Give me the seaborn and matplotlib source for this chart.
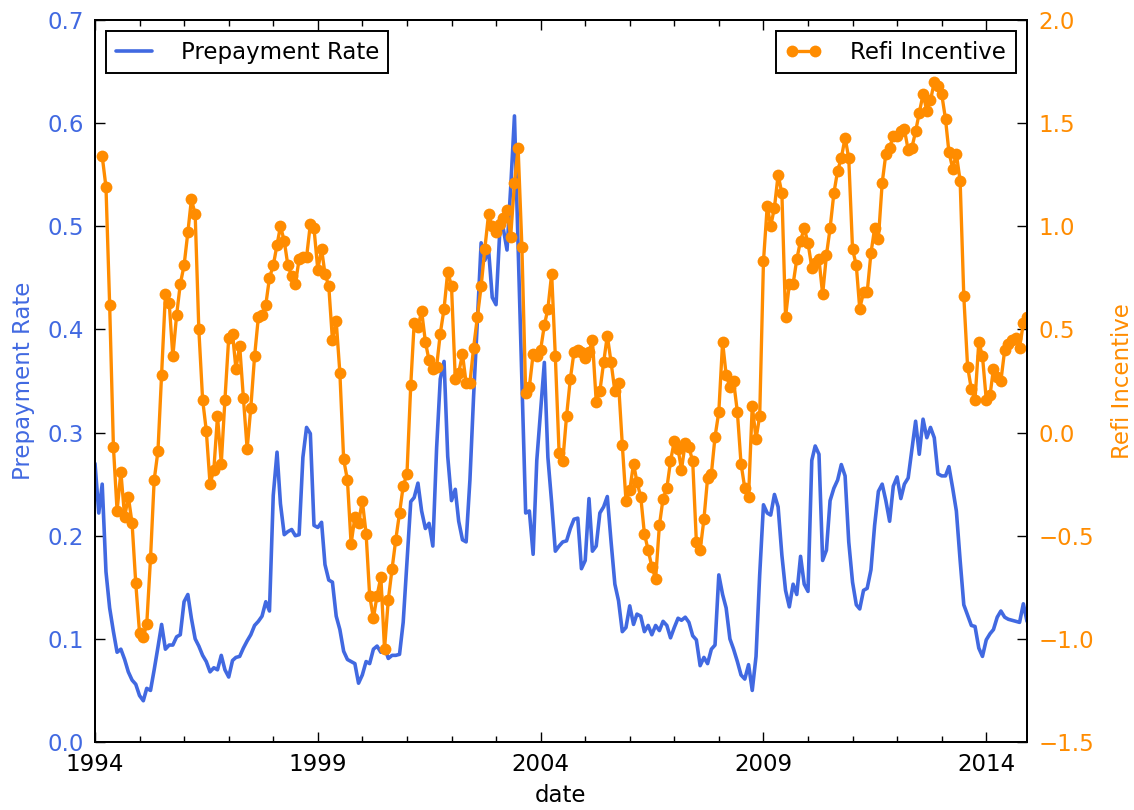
import numpy as np
import pandas as pd
import matplotlib
matplotlib.use("Agg")
import matplotlib.pyplot as plt
import matplotlib.dates as mdates
import seaborn as sns

# ---------------- data (monthly, Jan 1994 - Dec 2014) ----------------
start_month = "1994-01-01"

prepayment_rate = [
    0.270, 0.222, 0.250, 0.165, 0.130, 0.107, 0.087, 0.090, 0.080, 0.068, 0.060, 0.056,  # 1994
    0.045, 0.040, 0.052, 0.050, 0.070, 0.092, 0.114, 0.090, 0.094, 0.094, 0.102, 0.104,  # 1995
    0.136, 0.143, 0.120, 0.100, 0.093, 0.084, 0.078, 0.068, 0.072, 0.070, 0.084, 0.070,  # 1996
    0.063, 0.079, 0.082, 0.083, 0.091, 0.098, 0.104, 0.113, 0.117, 0.122, 0.136, 0.127,  # 1997
    0.239, 0.281, 0.231, 0.201, 0.204, 0.206, 0.200, 0.201, 0.276, 0.305, 0.299, 0.210,  # 1998
    0.208, 0.213, 0.172, 0.157, 0.155, 0.122, 0.109, 0.088, 0.080, 0.078, 0.076, 0.057,  # 1999
    0.065, 0.078, 0.076, 0.090, 0.093, 0.087, 0.092, 0.081, 0.084, 0.084, 0.085, 0.116,  # 2000
    0.174, 0.233, 0.237, 0.251, 0.224, 0.207, 0.212, 0.190, 0.285, 0.352, 0.369, 0.277,  # 2001
    0.234, 0.245, 0.214, 0.196, 0.194, 0.254, 0.335, 0.408, 0.484, 0.467, 0.477, 0.431,  # 2002
    0.424, 0.496, 0.498, 0.477, 0.537, 0.607, 0.480, 0.350, 0.222, 0.224, 0.182, 0.273,  # 2003
    0.320, 0.368, 0.276, 0.232, 0.185, 0.190, 0.194, 0.195, 0.207, 0.216, 0.217, 0.168,  # 2004
    0.176, 0.236, 0.185, 0.190, 0.222, 0.228, 0.238, 0.194, 0.153, 0.137, 0.107, 0.111,  # 2005
    0.132, 0.114, 0.124, 0.122, 0.107, 0.113, 0.104, 0.113, 0.108, 0.117, 0.113, 0.101,  # 2006
    0.111, 0.120, 0.118, 0.121, 0.116, 0.103, 0.099, 0.074, 0.082, 0.076, 0.090, 0.094,  # 2007
    0.162, 0.143, 0.130, 0.100, 0.090, 0.078, 0.065, 0.061, 0.075, 0.050, 0.083, 0.162,  # 2008
    0.230, 0.222, 0.220, 0.240, 0.228, 0.181, 0.147, 0.131, 0.153, 0.143, 0.180, 0.153,  # 2009
    0.146, 0.273, 0.287, 0.279, 0.176, 0.186, 0.234, 0.246, 0.254, 0.269, 0.258, 0.194,  # 2010
    0.155, 0.133, 0.129, 0.147, 0.149, 0.167, 0.210, 0.243, 0.250, 0.234, 0.214, 0.248,  # 2011
    0.257, 0.236, 0.250, 0.256, 0.283, 0.311, 0.279, 0.313, 0.295, 0.305, 0.295, 0.260,  # 2012
    0.258, 0.258, 0.267, 0.246, 0.224, 0.176, 0.133, 0.123, 0.113, 0.112, 0.091, 0.083,  # 2013
    0.099, 0.105, 0.109, 0.121, 0.127, 0.121, 0.119, 0.118, 0.117, 0.116, 0.134, 0.117,  # 2014
]

refi_incentive = [
    np.nan, np.nan, 1.34, 1.19, 0.62, -0.07, -0.38, -0.19, -0.41, -0.31, -0.44, -0.73,  # 1994
    -0.97, -0.99, -0.93, -0.61, -0.23, -0.09, 0.28, 0.67, 0.63, 0.37, 0.57, 0.72,       # 1995
    0.81, 0.97, 1.13, 1.06, 0.50, 0.16, 0.01, -0.25, -0.18, 0.08, -0.15, 0.16,          # 1996
    0.46, 0.48, 0.31, 0.42, 0.17, -0.08, 0.12, 0.37, 0.56, 0.57, 0.62, 0.75,            # 1997
    0.81, 0.91, 1.00, 0.93, 0.81, 0.76, 0.72, 0.84, 0.85, 0.85, 1.01, 0.99,             # 1998
    0.79, 0.89, 0.77, 0.71, 0.45, 0.54, 0.29, -0.13, -0.23, -0.54, -0.41, -0.44,        # 1999
    -0.33, -0.49, -0.79, -0.90, -0.79, -0.70, -1.05, -0.81, -0.66, -0.52, -0.39, -0.26, # 2000
    -0.20, 0.23, 0.53, 0.51, 0.59, 0.44, 0.35, 0.31, 0.32, 0.48, 0.60, 0.78,            # 2001
    0.71, 0.26, 0.29, 0.38, 0.24, 0.24, 0.41, 0.56, 0.71, 0.89, 1.06, 1.00,             # 2002
    0.97, 1.01, 1.04, 1.08, 0.95, 1.21, 1.38, 0.90, 0.19, 0.22, 0.38, 0.37,             # 2003
    0.40, 0.52, 0.60, 0.77, 0.37, -0.10, -0.14, 0.08, 0.26, 0.39, 0.40, 0.39,           # 2004
    0.36, 0.39, 0.45, 0.15, 0.20, 0.34, 0.47, 0.34, 0.20, 0.24, -0.06, -0.33,           # 2005
    -0.28, -0.15, -0.24, -0.31, -0.49, -0.57, -0.65, -0.71, -0.45, -0.32, -0.27, -0.14, # 2006
    -0.04, -0.08, -0.18, -0.05, -0.07, -0.14, -0.53, -0.57, -0.42, -0.22, -0.20, -0.02, # 2007
    0.10, 0.44, 0.28, 0.22, 0.25, 0.10, -0.15, -0.27, -0.31, 0.13, -0.03, 0.08,         # 2008
    0.83, 1.10, 1.00, 1.09, 1.25, 1.16, 0.56, 0.72, 0.72, 0.84, 0.93, 0.99,             # 2009
    0.92, 0.80, 0.82, 0.84, 0.67, 0.86, 0.99, 1.16, 1.27, 1.33, 1.43, 1.33,             # 2010
    0.89, 0.81, 0.60, 0.68, 0.68, 0.87, 0.99, 0.94, 1.21, 1.35, 1.38, 1.44,             # 2011
    1.44, 1.46, 1.47, 1.37, 1.38, 1.46, 1.55, 1.64, 1.56, 1.61, 1.70, 1.68,             # 2012
    1.64, 1.52, 1.36, 1.28, 1.35, 1.22, 0.66, 0.32, 0.21, 0.16, 0.44, 0.37,             # 2013
    0.16, 0.18, 0.31, 0.27, 0.25, 0.40, 0.43, 0.45, 0.46, 0.41, 0.53, 0.56,             # 2014
]

major_tick_years = [1994, 1999, 2004, 2009, 2014]
left_ticks = [0.0, 0.1, 0.2, 0.3, 0.4, 0.5, 0.6, 0.7]
right_ticks = [-1.5, -1.0, -0.5, 0.0, 0.5, 1.0, 1.5, 2.0]

BLUE = "#4169E1"
ORANGE = "#FF8C00"
FS = 16.5

# ---------------- style ----------------
sns.set_style("white")
plt.rcParams["font.family"] = ["DejaVu Sans"]
plt.rcParams["axes.unicode_minus"] = True
plt.rcParams["text.color"] = "black"
plt.rcParams["axes.labelcolor"] = "black"
plt.rcParams["xtick.color"] = "black"
plt.rcParams["ytick.color"] = "black"

dates = pd.date_range(start_month, periods=len(prepayment_rate), freq="MS")
df = pd.DataFrame({"date": dates,
                   "Prepayment Rate": prepayment_rate,
                   "Refi Incentive": refi_incentive})

fig = plt.figure(figsize=(11.34, 8.10), dpi=100, facecolor="white")
ax = fig.add_axes([95 / 1134, 68 / 810, 932 / 1134, 722 / 810])
ax2 = ax.twinx()

sns.lineplot(data=df, x="date", y="Prepayment Rate", ax=ax, color=BLUE,
             linewidth=2.6, legend=False)
sns.lineplot(data=df.dropna(), x="date", y="Refi Incentive", ax=ax2, color=ORANGE,
             linewidth=2.4, marker="o", markersize=8.5, markeredgecolor=ORANGE,
             markeredgewidth=0, legend=False)

# axes limits
ax.set_xlim(dates[0], dates[-1])
ax.set_ylim(left_ticks[0], left_ticks[-1])
ax2.set_ylim(right_ticks[0], right_ticks[-1])
ax.set_yticks(left_ticks)
ax2.set_yticks(right_ticks)
ax.set_yticklabels([f"{v:.1f}" for v in left_ticks])
ax2.set_yticklabels([f"{v:.1f}".replace("-", "\u2212") for v in right_ticks])

ax.set_xticks(pd.to_datetime([f"{y}-01-01" for y in major_tick_years]))
ax.set_xticklabels([str(y) for y in major_tick_years])
ax.xaxis.set_minor_locator(mdates.YearLocator(1))

for a in (ax, ax2):
    for s in a.spines.values():
        s.set_linewidth(1.4)
        s.set_color("black")
        s.set_visible(True)

ax.tick_params(axis="x", which="both", direction="in", top=True, bottom=True,
               labelsize=FS, pad=8, color="black", labelcolor="black", width=1)
ax.tick_params(axis="x", which="major", length=7.5)
ax.tick_params(axis="x", which="minor", length=4)
ax.tick_params(axis="y", which="major", direction="in", left=True, right=False,
               length=7.5, width=1, color="black", labelsize=FS, labelcolor=BLUE, pad=8)
ax2.tick_params(axis="y", which="major", direction="in", right=True, left=False,
                length=7.5, width=1, color="black", labelsize=FS, labelcolor=ORANGE, pad=8)

ax.set_xlabel("date", fontsize=FS, color="black", labelpad=6)
ax.set_ylabel("Prepayment Rate", fontsize=FS, color=BLUE, labelpad=9)
ax2.set_ylabel("Refi Incentive", fontsize=FS, color=ORANGE, labelpad=12)

ax.grid(False)
ax2.grid(False)

leg1 = ax.legend([ax.get_lines()[0]], ["Prepayment Rate"], loc="upper left",
                 fontsize=FS, frameon=True, fancybox=False, framealpha=1,
                 edgecolor="black", borderaxespad=0.5, handlelength=1.6,
                 handletextpad=1.25, borderpad=0.4)
leg1.get_frame().set_linewidth(1.4)
for t in leg1.get_texts():
    t.set_color("black")
leg2 = ax2.legend([ax2.get_lines()[0]], ["Refi Incentive"], loc="upper right",
                  fontsize=FS, frameon=True, fancybox=False, framealpha=1,
                  edgecolor="black", borderaxespad=0.5, handlelength=1.6,
                  handletextpad=1.25, borderpad=0.4, numpoints=2)
leg2.get_frame().set_linewidth(1.4)
for t in leg2.get_texts():
    t.set_color("black")

fig.savefig("out.png", dpi=100, facecolor="white")
